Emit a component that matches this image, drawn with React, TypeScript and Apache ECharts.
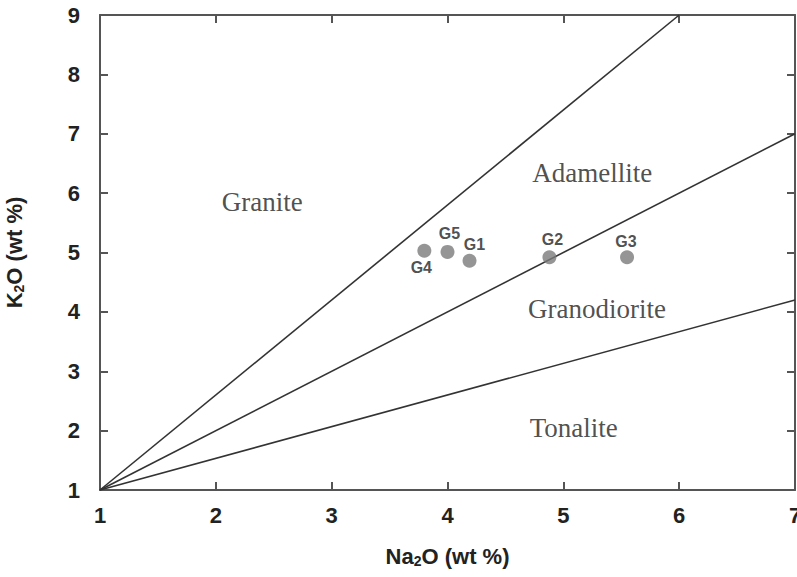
import React, { useEffect, useRef } from "react";
import * as echarts from "echarts";

const xTicks = [1, 2, 3, 4, 5, 6, 7];
const yTicks = [1, 2, 3, 4, 5, 6, 7, 8, 9];

const boundaryGraniteAdamellite: [number, number][] = [[1, 1], [6, 9]];
const boundaryAdamelliteGranodiorite: [number, number][] = [[1, 1], [7, 7]];
const boundaryGranodioriteTonalite: [number, number][] = [[1, 1], [7, 4.2]];

const sampleNames = ["G4", "G5", "G1", "G2", "G3"];
const sampleNa2O = [3.8, 4.0, 4.19, 4.88, 5.55];
const sampleK2O = [5.03, 5.01, 4.86, 4.92, 4.92];
const sampleLabelOffsets: [number, number][] = [[-3, 17], [2, -18], [5, -16], [3, -18], [-1, -16]];

const regionNames = ["Granite", "Adamellite", "Granodiorite", "Tonalite"];
const regionX = [2.4, 5.25, 5.29, 5.09];
const regionY = [5.85, 6.34, 4.05, 2.04];

const SANS = "'Liberation Sans', Arial, sans-serif";
const SERIF = "'Liberation Serif', 'Times New Roman', serif";
const AXIS_COLOR = "#555";
const TEXT_COLOR = "#222";

const makeRich = () => ({
  a: { fontSize: 22, fontWeight: "bold", color: TEXT_COLOR, fontFamily: SANS },
  s: { fontSize: 14, fontWeight: "bold", color: TEXT_COLOR, fontFamily: SANS, padding: [9, 0, 0, 0] },
});

const axisLineOpt = () => ({ show: true, lineStyle: { color: AXIS_COLOR, width: 2 } });
const axisTickOpt = () => ({ show: true, inside: true, length: 8, lineStyle: { color: AXIS_COLOR, width: 2 } });
const gridRect = () => ({ left: 100, right: 2, top: 15, bottom: 87, outerBoundsMode: "none" });

export default function App() {
  const ref = useRef<HTMLDivElement>(null);
  useEffect(() => {
    if (!ref.current) return;
    const chart = echarts.init(ref.current, null, { renderer: "svg" });
    const mkLine = (data: [number, number][]) => ({
      type: "line",
      data,
      symbol: "none",
      lineStyle: { color: "#333", width: 1.6 },
      silent: true,
      xAxisIndex: 0,
      yAxisIndex: 0,
      z: 2,
    });
    chart.setOption({
      animation: false,
      grid: [gridRect(), gridRect()],
      xAxis: [
        {
          type: "value",
          gridIndex: 0,
          min: xTicks[0],
          max: xTicks[xTicks.length - 1],
          interval: 1,
          axisLine: axisLineOpt(),
          axisTick: axisTickOpt(),
          splitLine: { show: false },
          axisLabel: {
            show: true,
            margin: 14,
            fontSize: 22,
            fontWeight: "bold",
            color: TEXT_COLOR,
            fontFamily: SANS,
          },
          name: "{a|Na}{s|2}{a|O (wt %)}",
          nameLocation: "middle",
          nameGap: 55,
          nameTextStyle: { rich: makeRich() },
        },
        {
          type: "value",
          gridIndex: 1,
          min: xTicks[0],
          max: xTicks[xTicks.length - 1],
          interval: 1,
          position: "top",
          axisLine: axisLineOpt(),
          axisTick: axisTickOpt(),
          splitLine: { show: false },
          axisLabel: { show: false },
        },
      ],
      yAxis: [
        {
          type: "value",
          gridIndex: 0,
          min: yTicks[0],
          max: yTicks[yTicks.length - 1],
          interval: 1,
          axisLine: axisLineOpt(),
          axisTick: axisTickOpt(),
          splitLine: { show: false },
          axisLabel: {
            show: true,
            margin: 20,
            fontSize: 22,
            fontWeight: "bold",
            color: TEXT_COLOR,
            fontFamily: SANS,
          },
          name: "{a|K}{s|2}{a|O (wt %)}",
          nameLocation: "middle",
          nameGap: 74,
          nameTextStyle: { rich: makeRich() },
        },
        {
          type: "value",
          gridIndex: 1,
          min: yTicks[0],
          max: yTicks[yTicks.length - 1],
          interval: 1,
          position: "right",
          axisLine: axisLineOpt(),
          axisTick: axisTickOpt(),
          splitLine: { show: false },
          axisLabel: { show: false },
        },
      ],
      series: [
        mkLine(boundaryGraniteAdamellite),
        mkLine(boundaryAdamelliteGranodiorite),
        mkLine(boundaryGranodioriteTonalite),
        {
          type: "scatter",
          symbol: "circle",
          symbolSize: 14,
          itemStyle: { color: "#7b7b7b" },
          z: 5,
          data: sampleNames.map((n, i) => ({
            name: n,
            value: [sampleNa2O[i], sampleK2O[i]],
            label: {
              show: true,
              position: "inside",
              offset: sampleLabelOffsets[i],
              formatter: "{b}",
              fontSize: 16,
              fontWeight: "bold",
              color: TEXT_COLOR,
              fontFamily: SANS,
            },
          })),
        },
        {
          type: "scatter",
          symbolSize: 1,
          itemStyle: { color: "rgba(255,255,255,0)" },
          silent: true,
          z: 4,
          data: regionNames.map((n, i) => ({ name: n, value: [regionX[i], regionY[i]] })),
          label: {
            show: true,
            position: "inside",
            formatter: "{b}",
            fontSize: 27,
            color: TEXT_COLOR,
            fontFamily: SERIF,
          },
        },
        {
          type: "line",
          xAxisIndex: 1,
          yAxisIndex: 1,
          data: [],
          silent: true,
        },
      ],
    });
    return () => chart.dispose();
  }, []);
  return <div ref={ref} style={{ width: 797, height: 577, position: "absolute", left: 0, top: 0 }} />;
}
